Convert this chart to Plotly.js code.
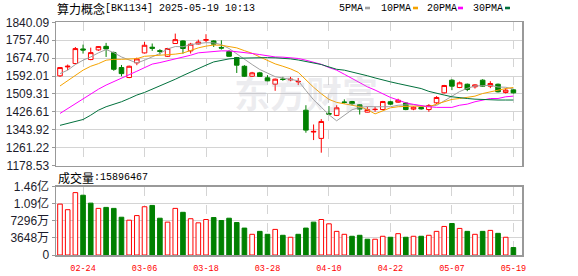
<!DOCTYPE html>
<html><head><meta charset="utf-8">
<script src="https://cdn.plot.ly/plotly-3.0.1.min.js"></script>
<style>html,body{margin:0;padding:0;background:#fff;}#chart{width:578px;height:276px;}</style>
</head><body><div id="chart"></div>
<script>
const dates = ['02-19','02-20','02-21','02-24','02-25','02-26','02-27','02-28','03-03','03-04',
'03-05','03-06','03-07','03-10','03-11','03-12','03-13','03-14','03-17','03-18',
'03-19','03-20','03-21','03-24','03-25','03-26','03-27','03-28','03-31','04-01',
'04-02','04-03','04-07','04-08','04-09','04-10','04-11','04-14','04-15','04-16',
'04-17','04-18','04-21','04-22','04-23','04-24','04-25','04-28','04-29','04-30',
'05-06','05-07','05-08','05-09','05-12','05-13','05-14','05-15','05-16','05-19'];

const openP = [1592.7,1634,1649.5,1717,1668,1712.5,1729,1700,1631,1585,
1652.6,1698.7,1725,1709,1683,1742,1754,1708,1740,1757,
1754,1724,1705,1677,1637,1591,1606.5,1583.5,1554.3,1578,
1574,1565,1434,1333,1303.8,1419,1410,1472,1474,1459,
1425,1437,1437,1473,1471,1467,1439,1446.6,1437,1468,
1514.3,1572.7,1539,1554,1542,1572.7,1545,1554,1516,1528];
const highP = [1633,1645,1726,1737,1723,1730,1745,1705,1643,1640,
1677,1749,1742,1716,1722,1788,1757,1745,1760,1785,
1757,1757,1711,1680,1642,1611,1611,1596,1580,1588,
1588,1583,1457,1368,1393,1453,1457,1484,1477,1462,
1450,1450,1477,1477,1487,1471,1451,1450,1462,1499,
1551,1577,1566.6,1557,1554,1577,1568,1557,1536,1532.7];
const lowP = [1588,1619,1646,1695.6,1665,1708,1680,1616,1591,1582,
1642,1696,1708,1691,1680,1742,1695,1696,1738,1749,
1726,1714,1680,1606,1588,1588,1588,1568,1523.5,1570,
1568,1550,1330,1296,1237.7,1414,1407,1465,1457,1414,
1424,1427,1434,1457,1468,1434,1434,1437,1426.7,1462,
1511,1526.7,1535.8,1522,1534,1542,1536,1516,1511,1511];
const closeP = [1631,1637,1718.7,1712,1700,1727.9,1717,1623,1603,1637,
1671,1734,1720,1706,1719,1760,1719,1739,1749,1760,
1739,1721,1683,1642,1591,1606.5,1590,1569.6,1577.3,1576,
1577,1567,1342,1336,1382,1416,1445,1470,1464,1439,
1437,1438,1474,1462,1480,1437,1448,1440,1455.9,1492.8,
1548,1545,1560.4,1529.7,1551,1545,1557.4,1519,1526.6,1514.3];

// volume in 万 (10k)
const volume = [10870,9680,13330,12770,11080,9960,10170,9960,8070,7440,
8420,10310,10590,7860,7020,9960,9120,7750,6870,7580,
8000,7370,7860,6940,5750,4420,5050,4420,5470,4210,
3790,4420,5750,7020,7580,6660,5050,4420,4000,4210,
3370,3370,4000,3790,4560,3790,4000,4000,4210,5050,
6100,6730,5680,5050,4420,5050,5260,4630,3790,1589.6];
const volDir = ['r','r','r','g','g','r','g','g','g','r',
'r','r','g','g','r','r','g','r','r','r',
'g','g','g','g','g','r','g','g','r','g',
'r','g','g','g','r','r','r','r','g','g',
'g','r','r','g','r','g','r','g','r','r',
'r','g','r','g','r','g','r','g','r','g'];

const ma5 = [1603,1619,1645,1665,1680,1699,1714,1700,1680,1665,
1652,1665,1680,1696,1717,1728,1727,1737,1742,1746,
1745,1737,1719,1693,1670,1645,1622,1606,1589,1583,
1578,1570,1525,1482,1448,1413,1385,1412,1436,1447,
1451,1450,1450,1450,1457,1458,1460,1453,1452,1456,
1477,1497,1520,1535,1546,1547,1549,1541,1540,1532];
const ma10 = [1546,1570,1596,1619,1637,1649,1665,1669,1669,1669,
1672,1683,1685,1688,1691,1693,1698,1710,1722,1730,
1735,1734,1729,1722,1709,1697,1680,1664,1648,1637,
1625,1609,1572,1540,1510,1484,1470,1462,1457,1450,
1437,1417,1432,1445,1450,1453,1453,1452,1450,1462,
1473,1484,1488,1493,1499,1511,1519,1527,1534,1539];
const ma20 = [1419,1442,1465,1488,1511,1531,1550,1565,1580,1598,
1614,1632,1647,1654,1662,1672,1680,1688,1699,1703,
1706,1708,1708,1705,1700,1696,1691,1685,1680,1679,
1677,1673,1665,1657,1646,1631,1619,1600,1580,1560,
1542,1527,1511,1493,1481,1468,1461,1454,1450,1447,
1447,1447,1457,1462,1473,1481,1488,1488,1496,1499];
const ma30 = [1364,1373,1381,1391,1411,1434,1450,1461,1473,1488,
1504,1516,1531,1545,1562,1577,1594,1611,1626,1642,
1657,1665,1671,1674,1675,1677,1677,1677,1676,1674,
1671,1666,1660,1653,1645,1634,1623,1619,1611,1603,
1593,1583,1573,1565,1557,1550,1542,1534,1521,1511,
1504,1496,1491,1488,1485,1483,1483,1481,1481,1481];

const priceTicks = [1178.53,1261.22,1343.92,1426.61,1509.31,1592.01,1674.70,1757.40,1840.09];
const priceTickText = ['1178.53','1261.22','1343.92','1426.61','1509.31','1592.01','1674.70','1757.40','1840.09'];
const volTicks = [0,3648,7296,10944,14592];
const volTickText = ['0','3648万','7296万','1.09亿','1.46亿'];
const dateTicks = ['02-24','03-06','03-18','03-28','04-10','04-22','05-07','05-19'];

const RED = '#ff0000', GREEN = '#008000';
const maColors = ['#a0a0a0','#f5a300','#ff00ff','#00703c'];

const traces = [];
traces.push({
  type:'candlestick', x:dates, open:openP, high:highP, low:lowP, close:closeP,
  xaxis:'x2', yaxis:'y',
  increasing:{line:{color:RED,width:1},fillcolor:'#ffffff'},
  decreasing:{line:{color:GREEN,width:1},fillcolor:GREEN},
  hoverinfo:'skip'
});
[ma5,ma10,ma20,ma30].forEach((m,k)=>{
  traces.push({type:'scatter',mode:'lines',x:dates,y:m,xaxis:'x2',yaxis:'y',
    line:{color:maColors[k],width:1},hoverinfo:'skip'});
});
traces.push({
  type:'bar', x:dates, y:volume, xaxis:'x', yaxis:'y2', width:0.6,
  marker:{color:volDir.map(d=>d==='r'?'#ffffff':GREEN),
          line:{color:volDir.map(d=>d==='r'?RED:GREEN),width:1}},
  hoverinfo:'skip'
});

const W = 466, X0 = 56, H = 276;
const px = X => (X - X0) / W;
const py = Y => (H - Y) / H;
const frame = '#999999', grid = '#d4d4d4';
const monoFont = {family:'Liberation Mono, DejaVu Sans Mono, monospace', size:10, color:'#000'};
const cjkFont = {family:'Noto Sans CJK SC, sans-serif', size:12, color:'#000'};

const annotations = [
  {text:'算力概念', x:px(56), y:py(8.5), font:cjkFont},
  {text:'[BK1134] 2025-05-19 10:13', x:px(104), y:py(8.5), font:monoFont},
  {text:'5PMA', x:px(338), y:py(8.5), font:monoFont},
  {text:'10PMA', x:px(380), y:py(8.5), font:monoFont},
  {text:'20PMA', x:px(426), y:py(8.5), font:monoFont},
  {text:'30PMA', x:px(472), y:py(8.5), font:monoFont},
  {text:'成交量', x:px(57), y:py(177.7), font:cjkFont},
  {text:':15896467', x:px(93), y:py(177.7), font:monoFont},
].map(a=>Object.assign({xref:'paper',yref:'paper',xanchor:'left',yanchor:'middle',showarrow:false,borderpad:0},a));
annotations.push({text:'东方财富', x:px(306), y:py(92), xref:'paper', yref:'paper', showarrow:false,
  font:{family:'Noto Sans CJK SC, sans-serif', size:36, color:'rgba(170,170,185,0.22)', weight:700}});

const dashes = [[365,370,maColors[0]],[413,418,maColors[1]],[458,463,maColors[2]],[505,510,maColors[3]]];
const shapes = dashes.map(d=>({type:'rect',xref:'paper',yref:'paper',x0:px(d[0]),x1:px(d[1]),
  y0:py(9.3),y1:py(6.7),fillcolor:d[2],line:{width:0}}));

const layout = {
  width:578, height:276, margin:{l:56,r:56,t:0,b:0},
  paper_bgcolor:'#fff', plot_bgcolor:'#fff', showlegend:false,
  boxgap:0.15, boxgroupgap:0.3, bargap:0.4,
  xaxis:{type:'category', anchor:'y2', range:[-0.52,60.12], tickmode:'array', tickvals:dateTicks, ticktext:dateTicks,
    tickfont:{family:'Liberation Mono, monospace', size:8.5, color:RED}, ticks:'', ticklabelstandoff:4,
    showgrid:true, gridcolor:grid, griddash:'dash', gridwidth:1,
    showline:true, mirror:true, linecolor:frame, linewidth:1.5, rangeslider:{visible:false}, fixedrange:true},
  xaxis2:{type:'category', anchor:'y', matches:'x', range:[-0.52,60.12], tickmode:'array', tickvals:dateTicks,
    showticklabels:false, ticks:'', showgrid:true, gridcolor:grid, griddash:'dash', gridwidth:1,
    showline:true, mirror:true, linecolor:frame, linewidth:1.5, rangeslider:{visible:false}, fixedrange:true},
  yaxis:{domain:[py(165.5),py(22.3)], anchor:'x2', range:[1178.53,1840.09], tickmode:'array',
    tickvals:priceTicks, ticktext:priceTickText, ticks:'outside', ticklen:3, tickcolor:frame,
    tickfont:{family:'Liberation Sans, Arial, sans-serif', size:12, color:'#1c1c2c'},
    showgrid:true, gridcolor:grid, gridwidth:1, zeroline:false,
    showline:true, mirror:true, linecolor:frame, linewidth:1.5, fixedrange:true},
  yaxis2:{domain:[py(255),py(186.7)], anchor:'x', range:[0,14592], tickmode:'array',
    tickvals:volTicks, ticktext:volTickText, ticks:'outside', ticklen:3, tickcolor:frame,
    tickfont:{family:'Liberation Sans, Noto Sans CJK SC, sans-serif', size:12, color:'#1c1c2c'},
    showgrid:true, gridcolor:grid, gridwidth:1, zeroline:false,
    showline:true, mirror:true, linecolor:frame, linewidth:1.5, fixedrange:true},
  annotations:annotations, shapes:shapes, hovermode:false
};
Plotly.newPlot('chart', traces, layout, {staticPlot:true, displayModeBar:false});
</script></body></html>
